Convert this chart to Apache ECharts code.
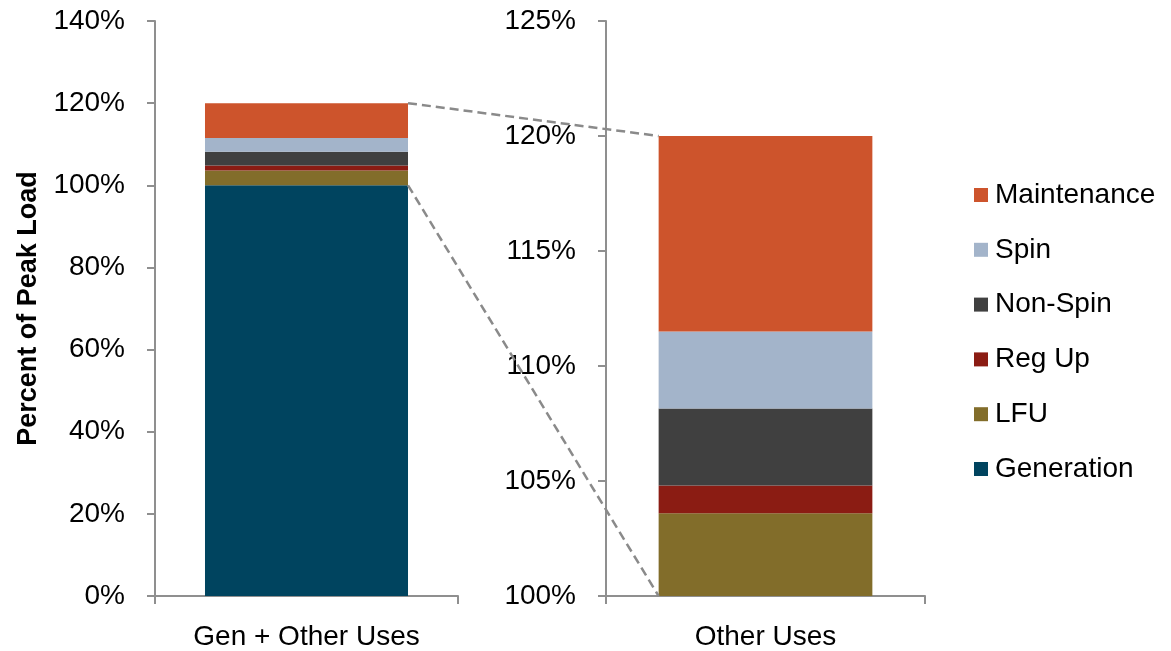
<!DOCTYPE html>
<html>
<head>
<meta charset="utf-8">
<script src="https://cdn.jsdelivr.net/npm/echarts@6/dist/echarts.min.js"></script>
<style>
  html, body { margin: 0; padding: 0; background: #ffffff; }
  #chart { width: 1171px; height: 651px; }
</style>
</head>
<body>
<div id="chart"></div>
<script>
// Categories for the two panels
const overallCategory = ['Gen + Other Uses'];
const detailCategory = ['Other Uses'];

// Stack components, percent of peak load (bottom to top)
const generation = [100];
const lfu = [3.6];
const regUp = [1.2];
const nonSpin = [3.35];
const spin = [3.35];
const maintenance = [8.5];

// Value-axis ticks for each panel
const overallTicks = [0, 20, 40, 60, 80, 100, 120, 140];
const detailTicks = [100, 105, 110, 115, 120, 125];

const legendOrder = ['Maintenance', 'Spin', 'Non-Spin', 'Reg Up', 'LFU', 'Generation'];

const FONT = '"Liberation Sans", Arial, sans-serif';
const AXIS_GREY = '#8f8f8f';

const stackDefs = [
  { name: 'Generation', values: generation, color: '#00445f' },
  { name: 'LFU', values: lfu, color: '#826d2a' },
  { name: 'Reg Up', values: regUp, color: '#8b1c13' },
  { name: 'Non-Spin', values: nonSpin, color: '#404040' },
  { name: 'Spin', values: spin, color: '#a3b4ca' },
  { name: 'Maintenance', values: maintenance, color: '#cd542c' }
];

function valueAxis(gridIndex, ticks, extra) {
  return Object.assign({
    type: 'value',
    gridIndex: gridIndex,
    min: ticks[0],
    max: ticks[ticks.length - 1],
    interval: ticks[1] - ticks[0],
    splitLine: { show: false },
    axisLine: { show: true, lineStyle: { color: AXIS_GREY, width: 2 } },
    axisTick: { show: true, length: 8, lineStyle: { color: AXIS_GREY, width: 2 } },
    axisLabel: {
      formatter: '{value}%',
      color: '#000',
      fontFamily: FONT,
      fontSize: 28,
      margin: 30
    }
  }, extra || {});
}

function categoryAxis(gridIndex, cats) {
  return {
    type: 'category',
    gridIndex: gridIndex,
    data: cats,
    axisLine: { show: true, lineStyle: { color: AXIS_GREY, width: 2 } },
    axisTick: { show: true, length: 8, alignWithLabel: false, lineStyle: { color: AXIS_GREY, width: 2 } },
    axisLabel: { color: '#000', fontFamily: FONT, fontSize: 28, margin: 27 }
  };
}

const series = [];
[0, 1].forEach(function (g) {
  stackDefs.forEach(function (d) {
    series.push({
      name: d.name,
      type: 'bar',
      xAxisIndex: g,
      yAxisIndex: g,
      stack: 'panel' + g,
      barWidth: '67%',
      data: d.values,
      itemStyle: { color: d.color },
      emphasis: { disabled: true },
      silent: true,
      animation: false
    });
  });
});

const chart = echarts.init(document.getElementById('chart'), null, { renderer: 'canvas' });

chart.setOption({
  backgroundColor: '#ffffff',
  animation: false,
  grid: [
    { left: 155, top: 21, width: 303, height: 577 },
    { left: 606, top: 21, width: 319, height: 577 }
  ],
  xAxis: [categoryAxis(0, overallCategory), categoryAxis(1, detailCategory)],
  yAxis: [
    valueAxis(0, overallTicks, {
      name: 'Percent of Peak Load',
      nameLocation: 'middle',
      nameRotate: 90,
      nameGap: 113,
      nameTextStyle: { color: '#000', fontFamily: FONT, fontSize: 27, fontWeight: 'bold' }
    }),
    valueAxis(1, detailTicks)
  ],
  legend: {
    data: legendOrder,
    orient: 'vertical',
    left: 969,
    top: 175,
    icon: 'rect',
    itemWidth: 14,
    itemHeight: 14,
    itemGap: 24.8,
    selectedMode: false,
    textStyle: {
      color: '#000',
      fontFamily: FONT,
      fontSize: 28,
      lineHeight: 30,
      padding: [0, 0, 0, 2]
    }
  },
  series: series
});

// Dashed connectors from the left bar's upper section to the zoomed panel
function barLayout(seriesIndex) {
  return chart.getModel().getSeriesByIndex(seriesIndex).getData().getItemLayout(0);
}
const n = stackDefs.length;
const leftTop = barLayout(n - 1);          // Maintenance, left panel
const leftGen = barLayout(0);              // Generation, left panel
const rightTop = barLayout(2 * n - 1);     // Maintenance, right panel
const rightBase = barLayout(n + 1);        // LFU, right panel

const leftRight = leftTop.x + leftTop.width;
const leftTopY = Math.min(leftTop.y, leftTop.y + leftTop.height);
const leftGenTopY = Math.min(leftGen.y, leftGen.y + leftGen.height);
const rightLeft = rightTop.x;
const rightTopY = Math.min(rightTop.y, rightTop.y + rightTop.height);
const rightBaseY = Math.max(rightBase.y, rightBase.y + rightBase.height);

const dash = { stroke: '#8a8a8a', lineWidth: 2.5, lineDash: [9, 5] };
chart.setOption({
  graphic: [
    { type: 'line', z: 100, shape: { x1: leftRight, y1: leftTopY, x2: rightLeft, y2: rightTopY }, style: dash, silent: true },
    { type: 'line', z: 100, shape: { x1: leftRight, y1: leftGenTopY, x2: rightLeft, y2: rightBaseY }, style: dash, silent: true }
  ]
});
</script>
</body>
</html>
